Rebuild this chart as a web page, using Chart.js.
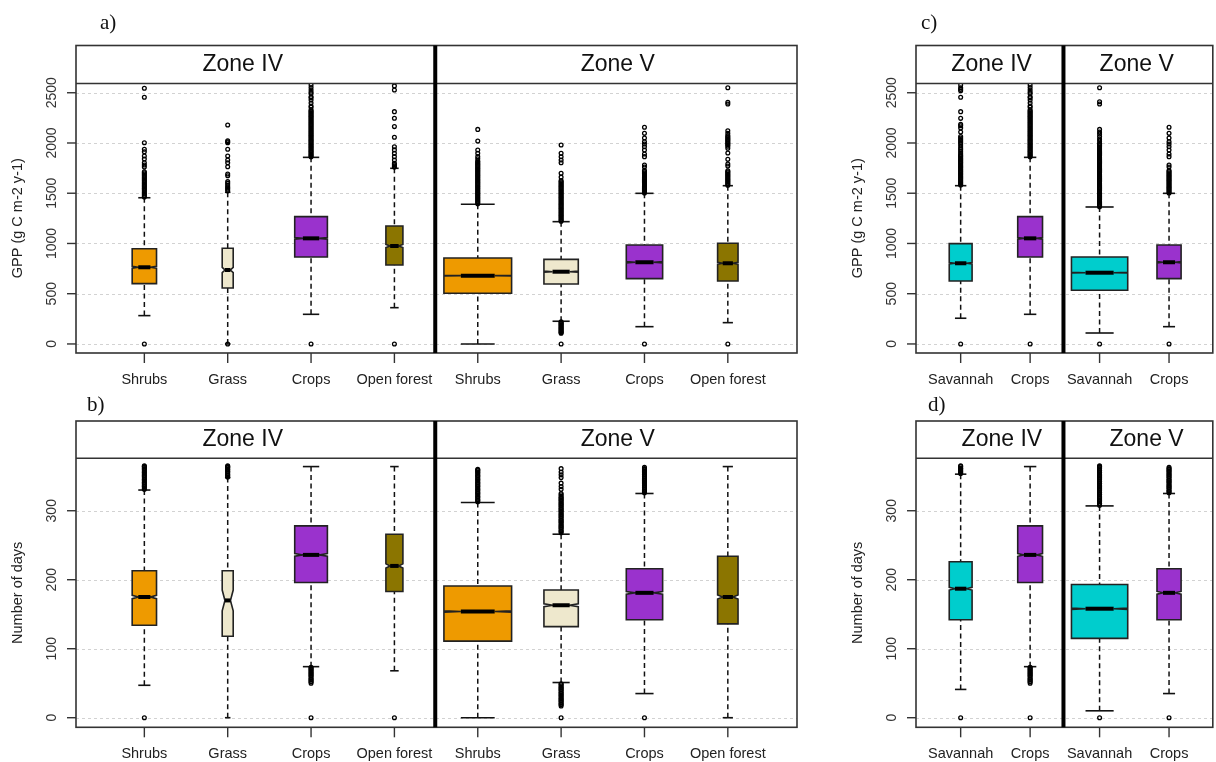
<!DOCTYPE html>
<html>
<head>
<meta charset="utf-8">
<script src="https://cdn.jsdelivr.net/npm/chart.js@4.4.1/dist/chart.umd.min.js"></script>
<style>
html,body{margin:0;padding:0;background:#fff;}
#wrap{position:relative;width:1216px;height:762px;background:#fff;}
#wrap canvas{position:absolute;left:0;top:0;}
</style>
</head>
<body>
<div id="wrap">
<canvas id="pa" width="1216" height="762"></canvas>
<canvas id="pb" width="1216" height="762"></canvas>
<canvas id="pc" width="1216" height="762"></canvas>
<canvas id="pd" width="1216" height="762"></canvas>
</div>
<script>
// ---------------- categories / labels ----------------
const landCats = ['Shrubs','Grass','Crops','Open forest','Shrubs','Grass','Crops','Open forest'];
const savCats = ['Savannah','Crops','Savannah','Crops'];
const zoneNames = ['Zone IV','Zone V'];
const gppTicks = [0,500,1000,1500,2000,2500];
const dayTicks = [0,100,200,300];
const gppTitle = 'GPP (g C m-2 y-1)';
const dayTitle = 'Number of days';

// ---------------- panel a: GPP by land cover (Zone IV x4, Zone V x4) ----------------
const gppLow   = [282, 0, 295, 361, 0, 226, 172, 212];
const gppQ1    = [600, 557, 866, 786, 504, 597, 650, 627];
const gppMed   = [763, 736, 1051, 975, 680, 719, 813, 803];
const gppQ3    = [948, 952, 1267, 1174, 856, 842, 985, 1002];
const gppHigh  = [1455, 1509, 1857, 1748, 1390, 1217, 1499, 1575];
const gppNotch = [10, 26, 8, 15, 3, 6, 6, 10];

const gppOutShrubsIV = [0,1463,1476,1490,1502,1515,1529,1541,1553,1566,1578,1591,1604,1616,1628,1641,1653,1666,1679,1691,1703,1714,1760,1781,1804,1840,1870,1913,1937,2003,2455,2544];
const gppOutGrassIV = [0,1525,1539,1552,1565,1582,1599,1615,1674,1691,1764,1804,1830,1870,1937,2003,2013,2023,2179];
const gppOutCropsIV = [0,1862,1872,1883,1893,1905,1916,1926,1937,1949,1960,1971,1982,1993,2004,2016,2027,2038,2049,2061,2072,2083,2094,2106,2117,2128,2139,2151,2162,2173,2184,2196,2207,2218,2229,2241,2252,2263,2274,2286,2297,2308,2319,2330,2356,2368,2398,2427,2450,2460,2490,2505,2527,2551,2577];
const gppOutOpenIV = [0,1760,1772,1785,1797,1830,1864,1897,1931,1963,2057,2163,2246,2312,2528,2568];
const gppOutShrubsV = [1396,1407,1418,1430,1441,1452,1463,1474,1486,1497,1508,1519,1530,1542,1553,1564,1575,1586,1598,1609,1620,1631,1642,1654,1665,1676,1687,1698,1710,1721,1732,1743,1754,1766,1777,1788,1799,1810,1820,1842,1864,1897,1930,2019,2135];
const gppOutGrassV = [0,106,113,122,131,140,149,158,167,176,185,194,203,212,221,1222,1233,1244,1255,1267,1278,1289,1300,1311,1323,1334,1345,1356,1367,1379,1390,1401,1412,1423,1435,1446,1457,1468,1479,1491,1502,1513,1524,1535,1547,1558,1569,1580,1591,1603,1614,1625,1660,1698,1804,1830,1863,1897,1980];
const gppOutCropsV = [0,1503,1514,1525,1536,1548,1559,1570,1581,1592,1604,1615,1626,1637,1648,1660,1671,1682,1693,1704,1716,1725,1760,1781,1864,1890,1930,1963,1990,2013,2050,2096,2156];
const gppOutOpenV = [0,1580,1591,1602,1614,1625,1636,1647,1658,1670,1681,1692,1703,1714,1724,1770,1791,1837,1900,1947,1968,1980,1992,2003,2015,2027,2038,2050,2062,2075,2096,2122,2388,2405,2550];

// ---------------- panel c: GPP savannah / crops ----------------
const gppSavLow   = [256, 295, 109, 172];
const gppSavQ1    = [627, 866, 534, 650];
const gppSavMed   = [803, 1051, 709, 813];
const gppSavQ3    = [998, 1267, 865, 985];
const gppSavHigh  = [1575, 1857, 1363, 1499];
const gppSavNotch = [8, 8, 3, 6];

const gppOutSavIV = [0,1582,1593,1604,1615,1627,1638,1649,1660,1671,1683,1694,1705,1716,1727,1739,1750,1761,1772,1783,1795,1806,1817,1828,1839,1851,1862,1873,1884,1900,1918,1935,1950,1970,1990,2005,2020,2035,2050,2064,2110,2150,2172,2185,2245,2312,2455,2520,2534,2550,2577];
const gppOutSavV = [0,1366,1377,1389,1400,1411,1422,1434,1445,1456,1467,1479,1490,1501,1512,1524,1535,1546,1557,1569,1580,1591,1602,1614,1625,1636,1647,1659,1670,1681,1692,1704,1715,1726,1737,1749,1760,1771,1782,1794,1805,1816,1827,1839,1850,1861,1872,1884,1895,1906,1917,1929,1940,1951,1962,1974,1985,1996,2020,2040,2065,2090,2110,2135,2388,2410,2550];

// ---------------- panel b: number of days by land cover ----------------
const dayLow   = [47, 0, 74, 68, 0, 51, 35, 0];
const dayQ1    = [134, 118, 196, 183, 111, 132, 142, 136];
const dayMed   = [175, 170, 236, 220, 154, 163, 181, 175];
const dayQ3    = [213, 213, 278, 266, 191, 185, 216, 234];
const dayHigh  = [330, 348, 364, 364, 312, 266, 325, 364];
const dayNotch = [2.4, 15, 2, 3, 1, 2, 2, 3];

const dayOutShrubsIV = [0,331,333,335,336,338,340,341,343,345,346,348,350,351,353,355,356,358,360,361,363,364,365];
const dayOutGrassIV = [349,351,352,354,356,357,359,360,362,363,364,365];
const dayOutCropsIV = [0,50,52,53,55,56,58,60,61,63,64,66,67,69,70,72,73];
const dayOutOpenIV = [0];
const dayOutShrubsV = [313,315,316,318,320,321,323,325,326,328,330,331,333,335,336,338,340,341,343,345,346,348,350,351,353,355,356,358,359,360];
const dayOutGrassV = [0,17,19,20,22,24,25,27,28,30,32,33,35,36,38,40,41,43,44,46,48,49,268,270,271,273,275,276,278,279,281,283,284,286,287,289,291,292,294,295,297,299,300,302,303,305,307,308,310,311,313,315,316,318,319,321,323,325,331,335,340,348,352,356,361];
const dayOutCropsV = [0,326,328,329,331,333,334,336,337,339,341,342,344,345,347,349,350,352,353,355,357,358,360,361,363];
const dayOutOpenV = [];

// ---------------- panel d: number of days savannah / crops ----------------
const daySavLow   = [41, 74, 10, 35];
const daySavQ1    = [142, 196, 115, 142];
const daySavMed   = [187, 236, 158, 181];
const daySavQ3    = [226, 278, 193, 216];
const daySavHigh  = [353, 364, 307, 325];
const daySavNotch = [2, 2, 1, 2];

const dayOutSavIV = [0,354,355,357,358,360,361,362,364,365];
const dayOutSavV = [0,308,310,311,313,315,316,318,319,321,323,324,326,327,329,331,332,334,335,337,339,340,342,343,345,347,348,350,351,353,355,356,358,359,361,363,364,365];

// ---------------- styles (widths = relative box widths, varwidth) ----------------
const landColors = ['#EE9A00','#EEE8CD','#9A32CD','#8B7500','#EE9A00','#EEE8CD','#9A32CD','#8B7500'];
const savColors = ['#00CDCD','#9A32CD','#00CDCD','#9A32CD'];
const landWidths = [0.292, 0.132, 0.392, 0.204, 0.812, 0.412, 0.436, 0.245];
const savWidths = [0.329, 0.357, 0.810, 0.347];

const SANS = '"Liberation Sans", Arial, Helvetica, sans-serif';
const SERIF = '"Liberation Serif", "Times New Roman", serif';

function line(ctx, x1, y1, x2, y2) {
  ctx.beginPath(); ctx.moveTo(x1, y1); ctx.lineTo(x2, y2); ctx.stroke();
}

function boxPlugin(p) {
  return {
    id: 'boxes',
    beforeDatasetsDraw(chart) {
      const ctx = chart.ctx, ca = chart.chartArea, xs = chart.scales.x, ys = chart.scales.y;
      ctx.save();
      // dotted horizontal grid
      ctx.strokeStyle = '#d2d2d2'; ctx.lineWidth = 1; ctx.setLineDash([3, 3]);
      p.yTicks.forEach(v => {
        const py = Math.round(ys.getPixelForValue(v)) + 0.5;
        line(ctx, ca.left, py, ca.right, py);
      });
      // boxes
      p.med.forEach((m, i) => {
        const cx = xs.getPixelForValue(i);
        const hw = (xs.getPixelForValue(p.widths[i]) - xs.getPixelForValue(0)) / 2;
        const pLow = ys.getPixelForValue(p.low[i]);
        const pQ1 = ys.getPixelForValue(p.q1[i]);
        const pMed = ys.getPixelForValue(m);
        const pQ3 = ys.getPixelForValue(p.q3[i]);
        const pHigh = ys.getPixelForValue(p.high[i]);
        const pNLo = ys.getPixelForValue(m - p.notch[i]);
        const pNHi = ys.getPixelForValue(m + p.notch[i]);
        ctx.strokeStyle = '#111';
        // whiskers (dashed)
        ctx.lineWidth = 1.5; ctx.setLineDash([5, 3.5]);
        line(ctx, cx, pHigh, cx, pQ3);
        line(ctx, cx, pLow, cx, pQ1);
        ctx.setLineDash([]);
        // staples
        ctx.lineWidth = 1.6;
        line(ctx, cx - hw / 2, pHigh, cx + hw / 2, pHigh);
        line(ctx, cx - hw / 2, pLow, cx + hw / 2, pLow);
        // notched box
        ctx.beginPath();
        ctx.moveTo(cx - hw, pQ1);
        ctx.lineTo(cx - hw, pNLo);
        ctx.lineTo(cx - hw / 2, pMed);
        ctx.lineTo(cx - hw, pNHi);
        ctx.lineTo(cx - hw, pQ3);
        ctx.lineTo(cx + hw, pQ3);
        ctx.lineTo(cx + hw, pNHi);
        ctx.lineTo(cx + hw / 2, pMed);
        ctx.lineTo(cx + hw, pNLo);
        ctx.lineTo(cx + hw, pQ1);
        ctx.closePath();
        ctx.fillStyle = p.colors[i];
        ctx.fill();
        ctx.strokeStyle = '#222';
        ctx.lineWidth = 1.6; ctx.lineJoin = 'miter';
        ctx.stroke();
        // median
        ctx.strokeStyle = '#000';
        ctx.lineWidth = 4; ctx.lineCap = 'butt';
        line(ctx, cx - hw / 2, pMed, cx + hw / 2, pMed);
      });
      ctx.restore();
    },
    afterDatasetsDraw(chart) {
      const ctx = chart.ctx, ca = chart.chartArea, xs = chart.scales.x, ys = chart.scales.y;
      ctx.save();
      ctx.setLineDash([]);
      // strip
      ctx.fillStyle = '#fff';
      ctx.fillRect(ca.left, p.stripTop, ca.right - ca.left, ca.top - p.stripTop);
      ctx.strokeStyle = '#333'; ctx.lineWidth = 1.6;
      ctx.strokeRect(ca.left, p.stripTop, ca.right - ca.left, ca.bottom - p.stripTop);
      line(ctx, ca.left, ca.top, ca.right, ca.top);
      // zone divider
      const dx = xs.getPixelForValue(p.divider);
      ctx.strokeStyle = '#000'; ctx.lineWidth = 4;
      line(ctx, dx, p.stripTop, dx, ca.bottom);
      // zone labels
      ctx.fillStyle = '#111';
      ctx.font = '23px ' + SANS;
      ctx.textAlign = 'center'; ctx.textBaseline = 'middle';
      zoneNames.forEach((z, k) => {
        ctx.fillText(z, xs.getPixelForValue(p.zonePos[k]), (p.stripTop + ca.top) / 2);
      });
      // y ticks and labels
      ctx.strokeStyle = '#333'; ctx.lineWidth = 1.4;
      ctx.fillStyle = '#333';
      ctx.font = '14px ' + SANS;
      p.yTicks.forEach(v => {
        const py = ys.getPixelForValue(v);
        line(ctx, ca.left - 9, py, ca.left, py);
        ctx.save();
        ctx.translate(ca.left - 24, py);
        ctx.rotate(-Math.PI / 2);
        ctx.textAlign = 'center'; ctx.textBaseline = 'middle';
        ctx.fillText(String(v), 0, 0);
        ctx.restore();
      });
      // y title
      ctx.save();
      ctx.font = '14.5px ' + SANS;
      ctx.fillStyle = '#222';
      ctx.translate(ca.left - 58, (ca.top + ca.bottom) / 2);
      ctx.rotate(-Math.PI / 2);
      ctx.textAlign = 'center'; ctx.textBaseline = 'middle';
      ctx.fillText(p.yTitle, 0, 0);
      ctx.restore();
      // x ticks and labels
      ctx.font = '14.5px ' + SANS;
      ctx.fillStyle = '#222';
      ctx.textAlign = 'center'; ctx.textBaseline = 'middle';
      p.cats.forEach((c, i) => {
        const px = xs.getPixelForValue(i);
        line(ctx, px, ca.bottom, px, ca.bottom + 10);
        ctx.fillText(c, px, ca.bottom + 27);
      });
      // panel letter
      ctx.font = '21px ' + SERIF;
      ctx.fillStyle = '#111';
      ctx.textAlign = 'left'; ctx.textBaseline = 'alphabetic';
      ctx.fillText(p.letter, p.letterX, p.letterY);
      ctx.restore();
    }
  };
}

function makePanel(id, p) {
  const pts = [];
  p.outliers.forEach((arr, i) => arr.forEach(v => pts.push({ x: i, y: v })));
  new Chart(document.getElementById(id), {
    type: 'scatter',
    data: { datasets: [{
      data: pts, pointRadius: 1.9, pointHoverRadius: 1.9, borderWidth: 1.3,
      borderColor: '#000', backgroundColor: 'rgba(0,0,0,0)'
    }] },
    options: {
      responsive: false, animation: false, events: [],
      layout: { padding: { left: p.area.left, top: p.area.top, right: 1216 - p.area.right, bottom: 762 - p.area.bottom } },
      scales: {
        x: { type: 'linear', display: false, min: p.xMin, max: p.xMax },
        y: { type: 'linear', display: false, min: p.yMin, max: p.yMax }
      },
      plugins: { legend: { display: false }, tooltip: { enabled: false } }
    },
    plugins: [boxPlugin(p)]
  });
}

makePanel('pa', {
  area: { left: 76, top: 83.5, right: 797, bottom: 353 }, stripTop: 45.5,
  xMin: -0.82, xMax: 7.83, yMin: -90, yMax: 2592, divider: 3.49, zonePos: [1.18, 5.68],
  cats: landCats, yTicks: gppTicks, yTitle: gppTitle,
  low: gppLow, q1: gppQ1, med: gppMed, q3: gppQ3, high: gppHigh, notch: gppNotch,
  widths: landWidths, colors: landColors,
  outliers: [gppOutShrubsIV, gppOutGrassIV, gppOutCropsIV, gppOutOpenIV, gppOutShrubsV, gppOutGrassV, gppOutCropsV, gppOutOpenV],
  letter: 'a)', letterX: 100, letterY: 29
});
makePanel('pb', {
  area: { left: 76, top: 458.3, right: 797, bottom: 727.3 }, stripTop: 421,
  xMin: -0.82, xMax: 7.83, yMin: -13.9, yMax: 376, divider: 3.49, zonePos: [1.18, 5.68],
  cats: landCats, yTicks: dayTicks, yTitle: dayTitle,
  low: dayLow, q1: dayQ1, med: dayMed, q3: dayQ3, high: dayHigh, notch: dayNotch,
  widths: landWidths, colors: landColors,
  outliers: [dayOutShrubsIV, dayOutGrassIV, dayOutCropsIV, dayOutOpenIV, dayOutShrubsV, dayOutGrassV, dayOutCropsV, dayOutOpenV],
  letter: 'b)', letterX: 87, letterY: 411
});
makePanel('pc', {
  area: { left: 916, top: 83.5, right: 1215, bottom: 353 }, stripTop: 45.5,
  xMin: -0.643, xMax: 3.63, yMin: -90, yMax: 2592, divider: 1.48, zonePos: [0.446, 2.534],
  cats: savCats, yTicks: gppTicks, yTitle: gppTitle,
  low: gppSavLow, q1: gppSavQ1, med: gppSavMed, q3: gppSavQ3, high: gppSavHigh, notch: gppSavNotch,
  widths: savWidths, colors: savColors,
  outliers: [gppOutSavIV, gppOutCropsIV, gppOutSavV, gppOutCropsV],
  letter: 'c)', letterX: 921, letterY: 29
});
makePanel('pd', {
  area: { left: 916, top: 458.3, right: 1215, bottom: 727.3 }, stripTop: 421,
  xMin: -0.643, xMax: 3.63, yMin: -13.9, yMax: 376, divider: 1.48, zonePos: [0.593, 2.677],
  cats: savCats, yTicks: dayTicks, yTitle: dayTitle,
  low: daySavLow, q1: daySavQ1, med: daySavMed, q3: daySavQ3, high: daySavHigh, notch: daySavNotch,
  widths: savWidths, colors: savColors,
  outliers: [dayOutSavIV, dayOutCropsIV, dayOutSavV, dayOutCropsV],
  letter: 'd)', letterX: 928, letterY: 411
});
</script>
</body>
</html>
